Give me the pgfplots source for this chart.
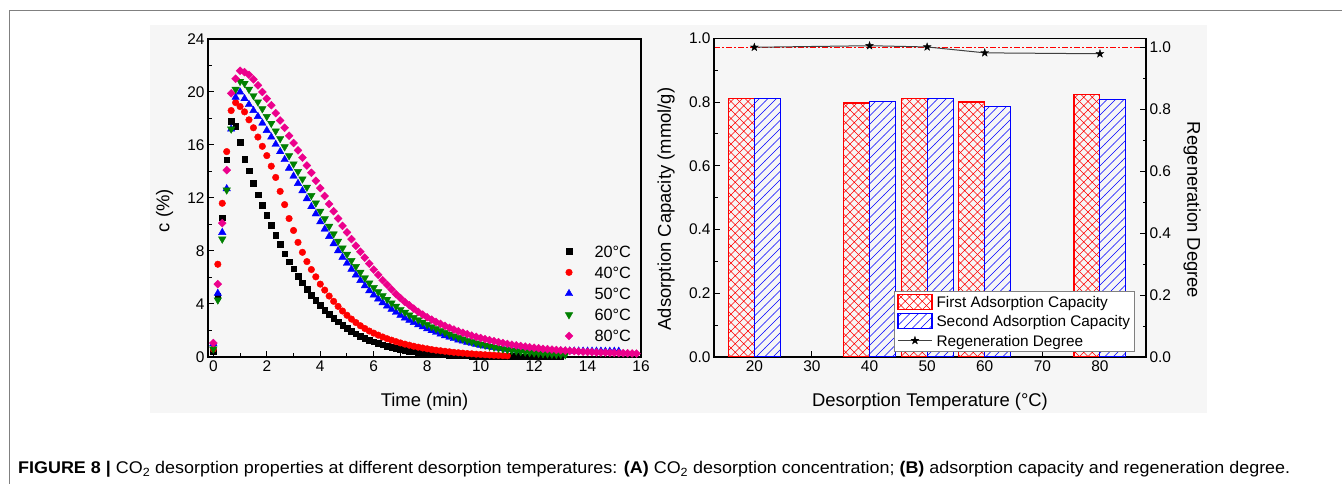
\documentclass[border=0pt]{standalone}
\usepackage{fontspec}
\setmainfont{Liberation Sans}
\usepackage{graphicx}
\usepackage{pgfplots}
\pgfplotsset{compat=1.18}
\usepackage{pgfplotstable}
\usetikzlibrary{patterns}

\definecolor{panelgray}{HTML}{F6F6F6}
\definecolor{framegray}{HTML}{808080}
\definecolor{mgreen}{HTML}{008000}
\definecolor{linegray}{HTML}{404040}

% filled five-pointed star
\pgfdeclareplotmark{fivestar}{%
  \pgfpathmoveto{\pgfpointpolar{90}{\pgfplotmarksize}}%
  \pgfpathlineto{\pgfpointpolar{126}{0.4\pgfplotmarksize}}%
  \pgfpathlineto{\pgfpointpolar{162}{\pgfplotmarksize}}%
  \pgfpathlineto{\pgfpointpolar{198}{0.4\pgfplotmarksize}}%
  \pgfpathlineto{\pgfpointpolar{234}{\pgfplotmarksize}}%
  \pgfpathlineto{\pgfpointpolar{270}{0.4\pgfplotmarksize}}%
  \pgfpathlineto{\pgfpointpolar{306}{\pgfplotmarksize}}%
  \pgfpathlineto{\pgfpointpolar{342}{0.4\pgfplotmarksize}}%
  \pgfpathlineto{\pgfpointpolar{18}{\pgfplotmarksize}}%
  \pgfpathlineto{\pgfpointpolar{54}{0.4\pgfplotmarksize}}%
  \pgfpathclose
  \pgfusepathqfillstroke
}

% bar fillings: red cross-hatch and blue diagonal lines
\pgfdeclarepatterninherentlycolored{redcross}{\pgfqpoint{-1bp}{-1bp}}{\pgfqpoint{9.5bp}{9.5bp}}{\pgfqpoint{8.5bp}{8.5bp}}{%
  \pgfsetlinewidth{0.6bp}\pgfsetstrokecolor{red}%
  \pgfpathmoveto{\pgfqpoint{-0.1bp}{-0.1bp}}\pgfpathlineto{\pgfqpoint{8.6bp}{8.6bp}}%
  \pgfpathmoveto{\pgfqpoint{-0.1bp}{8.6bp}}\pgfpathlineto{\pgfqpoint{8.6bp}{-0.1bp}}%
  \pgfusepath{stroke}}
\pgfdeclarepatterninherentlycolored{bluelines}{\pgfqpoint{-1bp}{-1bp}}{\pgfqpoint{9.5bp}{9.5bp}}{\pgfqpoint{8.5bp}{8.5bp}}{%
  \pgfsetlinewidth{0.6bp}\pgfsetstrokecolor{blue}%
  \pgfpathmoveto{\pgfqpoint{-0.1bp}{-0.1bp}}\pgfpathlineto{\pgfqpoint{8.6bp}{8.6bp}}%
  \pgfusepath{stroke}}

% CO2 concentration (%) during desorption, sampled every 10 s
\pgfplotstableread{
t c20 c40 c50 c60 c80
0 0.4 0.6 1.0 0.6 1.05
0.167 4.6 7.0 4.8 4.3 5.5
0.333 10.5 11.6 9.4 8.9 10.1
0.5 14.9 15.5 12.7 12.6 14.1
0.667 17.8 18.6 17.2 17.2 19.9
0.833 17.4 19.2 19.6 20.2 21.0
1 16.2 18.9 20.0 20.8 21.6
1.167 14.95 18.5 19.5 20.65 21.5
1.333 14.05 17.9 19.05 20.2 21.3
1.5 13.1 17.3 18.6 19.72 20.95
1.667 12.25 16.6 18.15 19.25 20.5
1.833 11.45 15.9 17.65 18.73 20.0
2 10.7 15.2 17.1 18.15 19.5
2.167 9.95 14.4 16.6 17.63 19.0
2.333 9.2 13.55 16.05 17.06 18.4
2.5 8.5 12.5 15.5 16.48 17.85
2.667 7.8 11.5 14.9 15.86 17.3
2.833 7.2 10.45 14.25 15.19 16.7
3 6.65 9.55 13.65 14.57 16.15
3.167 6.1 8.65 13.1 14.0 15.6
3.333 5.6 7.9 12.55 13.43 15.05
3.5 5.1 7.2 11.95 12.81 14.45
3.667 4.68 6.6 11.35 12.19 13.9
3.833 4.28 6.05 10.8 11.62 13.3
4 3.9 5.5 10.2 11.0 12.75
4.167 3.55 5.05 9.65 10.43 12.15
4.333 3.22 4.6 9.1 9.86 11.55
4.5 2.92 4.2 8.55 9.29 11.0
4.667 2.65 3.82 8.02 8.74 10.45
4.833 2.4 3.47 7.52 8.22 9.9
5 2.17 3.15 7.07 7.75 9.4
5.167 1.96 2.86 6.62 7.28 8.9
5.333 1.77 2.6 6.19 6.83 8.4
5.5 1.59 2.36 5.77 6.39 7.95
5.667 1.43 2.15 5.37 5.97 7.5
5.833 1.28 1.96 5.0 5.58 7.05
6 1.15 1.8 4.68 5.24 6.6
6.167 1.03 1.65 4.38 4.92 6.2
6.333 0.92 1.51 4.1 4.62 5.8
6.5 0.82 1.38 3.85 4.35 5.45
6.667 0.73 1.27 3.6 4.08 5.1
6.833 0.65 1.16 3.37 3.83 4.75
7 0.58 1.06 3.15 3.59 4.45
7.167 0.51 0.97 2.95 3.37 4.15
7.333 0.45 0.89 2.77 3.17 3.9
7.5 0.4 0.81 2.6 2.98 3.65
7.667 0.35 0.74 2.44 2.8 3.4
7.833 0.31 0.68 2.28 2.62 3.2
8 0.27 0.62 2.13 2.45 3.0
8.167 0.24 0.56 1.99 2.29 2.82
8.333 0.21 0.51 1.86 2.14 2.65
8.5 0.18 0.47 1.73 1.99 2.5
8.667 0.16 0.43 1.61 1.85 2.35
8.833 0.14 0.39 1.5 1.72 2.2
9 0.12 0.35 1.39 1.59 2.07
9.167 0.11 0.32 1.29 1.47 1.95
9.333 0.1 0.29 1.2 1.36 1.83
9.5 0.09 0.26 1.11 1.25 1.72
9.667 0.08 0.24 1.03 1.15 1.62
9.833 0.07 0.21 0.96 1.06 1.52
10 0.07 0.19 0.89 0.97 1.43
10.167 0.06 0.17 0.83 0.89 1.35
10.333 0.06 0.15 0.77 0.81 1.27
10.5 0.05 0.13 0.72 0.74 1.19
10.667 0.05 0.12 0.67 0.67 1.12
10.833 0.05 0.1 0.63 0.61 1.05
11 0.04 0.09 0.59 0.55 0.99
11.167 0.04 nan 0.56 0.5 0.93
11.333 0.04 nan 0.53 0.45 0.88
11.5 0.03 nan 0.51 0.41 0.83
11.667 0.03 nan 0.49 0.37 0.78
11.833 0.03 nan 0.48 0.33 0.74
12 0.03 nan 0.47 0.3 0.7
12.167 0.03 nan 0.47 0.27 0.66
12.333 0.02 nan 0.46 0.25 0.62
12.5 0.02 nan 0.46 0.23 0.59
12.667 0.02 nan 0.46 0.21 0.56
12.833 0.02 nan 0.46 0.19 0.53
13 0.02 nan 0.45 0.18 0.5
13.167 nan nan 0.45 0.17 0.48
13.333 nan nan 0.45 nan 0.46
13.5 nan nan 0.45 nan 0.44
13.667 nan nan 0.45 nan 0.42
13.833 nan nan 0.44 nan 0.4
14 nan nan 0.44 nan 0.38
14.167 nan nan 0.44 nan 0.37
14.333 nan nan 0.44 nan 0.35
14.5 nan nan 0.44 nan 0.34
14.667 nan nan 0.43 nan 0.33
14.833 nan nan 0.43 nan 0.32
15 nan nan 0.43 nan 0.31
15.167 nan nan 0.43 nan 0.3
15.333 nan nan nan nan 0.29
15.5 nan nan nan nan 0.28
15.667 nan nan nan nan 0.27
15.833 nan nan nan nan 0.26
}\desorption

% adsorption capacity (mmol/g) and regeneration degree
\pgfplotstableread{
T first second regen
20 0.810 0.812 1.000
40 0.797 0.801 1.005
50 0.810 0.811 1.001
60 0.800 0.787 0.982
80 0.824 0.809 0.979
}\capacity

% full-regeneration reference level
\pgfplotstableread{
T level
13 1
88 1
}\fullregen

\newcommand{\ticksize}{\fontsize{15.5}{18}\selectfont}
\newcommand{\labelsize}{\fontsize{18.5}{22}\selectfont}

\pgfplotsset{
  panel/.style={
    scale only axis,
    anchor=south west,
    axis line style={line width=1.2bp},
    every tick/.style={line width=1bp, black},
    tick align=inside,
    major tick length=6bp,
    minor tick length=3.5bp,
    tick label style={font=\ticksize},
    /pgf/number format/assume math mode=true,
  },
  marklegend/.style={legend image code/.code={%
    \draw[##1, only marks] plot coordinates {(0bp,0bp)};
    \path[draw=none, fill=none] (-6bp,-6bp) rectangle (6bp,6bp);}},
  rectlegend/.style={legend image code/.code={%
    \draw[##1] (0bp,-7.5bp) rectangle (34bp,7.5bp);}},
  starlegend/.style={legend image code/.code={%
    \draw[mark repeat=2, mark phase=2, ##1] plot coordinates {(0bp,0bp) (17bp,0bp) (34bp,0bp)};}},
  firstbar/.style={draw=red, line width=1.1bp, pattern=redcross},
  secondbar/.style={draw=blue, line width=1.1bp, pattern=bluelines},
  rightframe/.style={panel, at={(714bp,127bp)}, width=432bp, height=318.7bp, xmin=13, xmax=88},
}

\begin{document}
\begin{tikzpicture}[x=1bp,y=1bp]
\useasboundingbox (0,0) rectangle (1342,484);
\fill[panelgray] (150,71) rectangle (1207,459);
\draw[framegray, line width=1.2bp] (9.3,0) -- (9.3,473.4) -- (1342,473.4);

% (A) desorption concentration
\begin{axis}[panel,
  at={(208bp,127bp)},
  width=433bp, height=318bp,
  xmin=-0.2, xmax=16, ymin=0, ymax=24,
  xtick={0,2,...,16}, ytick={0,4,...,24},
  minor x tick num=1, minor y tick num=1,
  xtick pos=bottom, ytick pos=left,
  xlabel={Time (min)}, ylabel={c (\%)},
  every axis x label/.style={at={(axis description cs:0.5,-0.14)}, anchor=center, font=\labelsize},
  every axis y label/.style={at={(axis description cs:-0.1,0.46)}, rotate=90, anchor=center, font=\labelsize},
  legend style={at={(axis description cs:0.8194,0.3667)}, anchor=north west,
    draw=none, fill=none, inner sep=0bp, row sep=0bp,
    font=\fontsize{16.4}{19}\selectfont,
    nodes={inner sep=0bp, text height=16.5bp, text depth=4.7bp},
    /tikz/every odd column/.append style={column sep=19.5bp}},
  legend cell align=left,
  marklegend,
]
\addplot[only marks, mark=square*, mark size=2.8bp, black, mark options={line width=0.4bp}]
  table[x=t, y=c20] {\desorption};
\addlegendentry{20°C}
\addplot[only marks, mark=*, mark size=3.3bp, red, mark options={line width=0.4bp}]
  table[x=t, y=c40] {\desorption};
\addlegendentry{40°C}
\addplot[only marks, mark=triangle*, mark size=4.3bp, blue, mark options={line width=0.4bp}]
  table[x=t, y=c50] {\desorption};
\addlegendentry{50°C}
\addplot[only marks, mark=triangle*, mark size=4.3bp, mgreen, mark options={rotate=180, line width=0.4bp}]
  table[x=t, y=c60] {\desorption};
\addlegendentry{60°C}
\addplot[only marks, mark=square*, mark size=2.8bp, magenta, mark options={rotate=45, line width=0.4bp}]
  table[x=t, y=c80] {\desorption};
\addlegendentry{80°C}
\end{axis}

% (B) full-regeneration reference line, on the right-axis scale
\begin{axis}[rightframe, ymin=0, ymax=1.029, hide axis]
\addplot[red, no markers, line width=1.3bp, dash pattern=on 6bp off 2bp on 2bp off 2bp]
  table[x=T, y=level] {\fullregen};
\end{axis}

% (B) adsorption capacity: bars on the left axis
\begin{axis}[rightframe,
  ymin=0, ymax=1,
  xtick={20,30,...,80}, ytick={0,0.2,0.4,0.6,0.8,1},
  minor y tick num=1,
  xtick pos=bottom, ytick pos=left,
  yticklabel style={/pgf/number format/.cd, fixed, fixed zerofill, precision=1},
  xlabel={Desorption Temperature (°C)}, ylabel={Adsorption Capacity (mmol/g)},
  every axis x label/.style={at={(axis description cs:0.5,-0.14)}, anchor=center, font=\labelsize},
  every axis y label/.style={at={(axis description cs:-0.111,0.464)}, rotate=90, anchor=center, font=\labelsize},
]
\addplot[ybar, bar width=4.5, bar shift=-2.25, firstbar]
  table[x=T, y=first] {\capacity};
\addplot[ybar, bar width=4.5, bar shift=2.25, secondbar]
  table[x=T, y=second] {\capacity};
\end{axis}

% (B) regeneration degree on the right axis
\begin{axis}[rightframe,
  ymin=0, ymax=1.029,
  axis y line*=right, axis x line=none,
  ytick={0,0.2,0.4,0.6,0.8,1},
  minor y tick num=1,
  yticklabel style={/pgf/number format/.cd, fixed, fixed zerofill, precision=1},
  ylabel={Regeneration Degree},
  every axis y label/.style={at={(axis description cs:1.107,0.461)}, rotate=-90, anchor=center, font=\labelsize},
  legend style={at={(axis description cs:0.9745,0.0166)}, anchor=south east,
    draw=framegray, line width=0.8bp, fill=white, inner xsep=3bp, inner ysep=1.2bp, row sep=0bp,
    font=\fontsize{15.4}{18}\selectfont,
    nodes={inner xsep=1.5bp, inner ysep=1bp, text height=14.1bp, text depth=3.1bp},
    /tikz/every odd column/.append style={column sep=2.5bp}},
  legend cell align=left,
  legend entries={First Adsorption Capacity, Second Adsorption Capacity, Regeneration Degree},
]
\addlegendimage{rectlegend, firstbar}
\addlegendimage{rectlegend, secondbar}
\addplot[color=linegray, line width=1bp, mark=fivestar, mark size=4.2bp,
  mark options={black, fill=black, solid, line width=0.3bp}, starlegend]
  table[x=T, y=regen] {\capacity};
\end{axis}

\node[anchor=base west, inner sep=0bp] at (18,10) {\resizebox{1272bp}{\height}{\fontsize{17}{20}\selectfont
  \textbf{FIGURE 8 |} CO\textsubscript{2} desorption properties at different desorption temperatures: \textbf{(A)} CO\textsubscript{2} desorption concentration; \textbf{(B)} adsorption capacity and regeneration degree.}};
\end{tikzpicture}
\end{document}
